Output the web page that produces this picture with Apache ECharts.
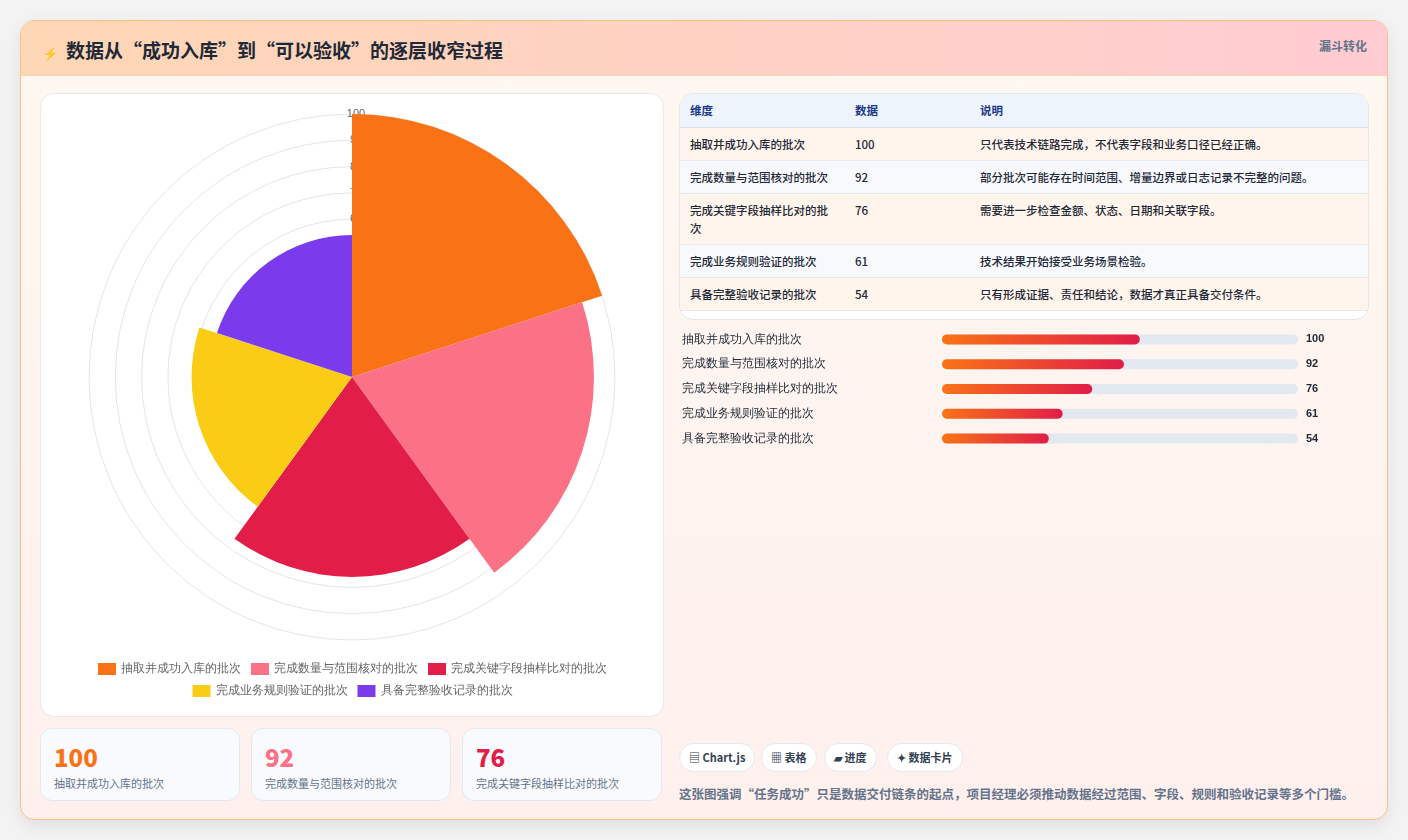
<!DOCTYPE html>
<html><head><meta charset="utf-8">
<script src="https://cdn.jsdelivr.net/npm/echarts@6/dist/echarts.min.js"></script>
<style>
*{box-sizing:border-box;margin:0;padding:0}
body{width:1408px;height:840px;background:#f3f3f3;font-family:"Noto Sans CJK SC","Noto Sans",sans-serif;position:relative;overflow:hidden}
.card{position:absolute;left:20px;top:20px;width:1368px;height:800px;border:1px solid #f5c08a;border-radius:14px;background:linear-gradient(180deg,#fff8f0,#fff0ee);box-shadow:0 6px 18px rgba(0,0,0,.08);overflow:hidden}
.head{position:absolute;left:0;top:0;width:100%;height:55px;background:linear-gradient(90deg,#fed7b5,#ffccd2);border-bottom:1px solid #f6d2b8}
.head h1{position:absolute;left:22px;top:15px;font-size:19px;font-weight:700;color:#1f2937}
.head h1 span{font-size:12px;color:#6366f1;margin-right:8px}
.tag{position:absolute;right:20px;top:16px;font-size:12px;font-weight:700;color:#64748b}
.box{position:absolute;background:#fff;border:1px solid #e5e7eb;border-radius:14px}
#polar{position:absolute;left:0;top:0;width:623px;height:623px}
table{border-collapse:collapse;width:100%;font-size:11.5px;color:#1f2937}
th{background:#eef4fc;color:#1e3a8a;text-align:left;font-weight:700;height:33px;padding:0 10px;border-bottom:1px solid #dbe3ee}
td{padding:7px 10px;border-bottom:1px solid #e5eaf0;font-weight:500;vertical-align:top;line-height:18px}
tr:nth-child(even) td{background:#fff5ec}tr:nth-child(odd) td{background:#f7f9fc}
.kpi{position:absolute;top:707px;width:200px;height:73px;background:#f8fafd;border:1px solid #e2e8f0;border-radius:12px}
.kpi b{position:absolute;left:13px;top:10px;font-size:24px;font-weight:800}
.kpi i{position:absolute;left:13px;top:46px;font-style:normal;font-size:11px;color:#64748b}
.chip{position:absolute;top:722px;height:29px;border:1px solid #e2e8f0;border-radius:15px;background:#fff;font-size:11px;font-weight:700;color:#334155;line-height:27px;padding:0 9px}
.foot{position:absolute;left:658px;top:763px;font-size:12.5px;font-weight:600;color:#64748b}
</style></head><body>
<div class="card">
 <div class="head"><h1><span>⚡</span>数据从“成功入库”到“可以验收”的逐层收窄过程</h1><div class="tag">漏斗转化</div></div>
 <div class="box" style="left:19px;top:72px;width:624px;height:624px;overflow:hidden"><div id="polar"></div></div>
 <div id="kpis"></div>
 <div class="box" style="left:658px;top:72px;width:690px;height:227px;overflow:hidden"><table id="tbl"></table></div>
 <div id="prog" style="position:absolute;left:658px;top:306px;width:690px;height:124px"></div>
 <div class="chip" style="left:658px">▤ Chart.js</div>
 <div class="chip" style="left:740px">▦ 表格</div>
 <div class="chip" style="left:803px">▰ 进度</div>
 <div class="chip" style="left:866px">✦ 数据卡片</div>
 <div class="foot">这张图强调“任务成功”只是数据交付链条的起点，项目经理必须推动数据经过范围、字段、规则和验收记录等多个门槛。</div>
</div>
<script>
const categories=["抽取并成功入库的批次","完成数量与范围核对的批次","完成关键字段抽样比对的批次","完成业务规则验证的批次","具备完整验收记录的批次"];
const values=[100,92,76,61,54];
const notes=["只代表技术链路完成，不代表字段和业务口径已经正确。","部分批次可能存在时间范围、增量边界或日志记录不完整的问题。","需要进一步检查金额、状态、日期和关联字段。","技术结果开始接受业务场景检验。","只有形成证据、责任和结论，数据才真正具备交付条件。"];
const colors=["#f97316","#fb7185","#e11d48","#facc15","#7c3aed"];
const kpiColors=["#f97316","#fb7185","#e11d48"];

let h='<tr><th style="width:165px">维度</th><th style="width:125px">数据</th><th>说明</th></tr>';
categories.forEach((c,i)=>{h+=`<tr><td>${c}</td><td>${values[i]}</td><td>${notes[i]}</td></tr>`});
document.getElementById('tbl').innerHTML=h;
let k='';[0,1,2].forEach(i=>{k+=`<div class="kpi" style="left:${19+i*211}px"><b style="color:${kpiColors[i]}">${values[i]}</b><i>${categories[i]}</i></div>`});
document.getElementById('kpis').innerHTML=k;

const lg={left:'center',itemWidth:18,itemHeight:12,itemGap:10,icon:'rect',textStyle:{color:'#666',fontSize:11.5}};
const pc=echarts.init(document.getElementById('polar'));
pc.setOption({
 animation:false,
 polar:{center:[311,283],radius:263},
 angleAxis:{type:'category',data:categories,startAngle:90,clockwise:true,axisLine:{show:false},axisTick:{show:false},axisLabel:{show:false},splitLine:{show:false}},
 radiusAxis:{type:'value',min:0,max:100,interval:10,z:0,axisLine:{show:false},axisTick:{show:false},
  axisLabel:{color:'#666',fontSize:11,margin:-4,align:'center'},splitLine:{lineStyle:{color:'#e5e5e5'}}},
 legend:[Object.assign({top:564,data:categories.slice(0,3)},lg),Object.assign({top:586,data:categories.slice(3)},lg)],
 series:categories.map((c,i)=>({type:'bar',coordinateSystem:'polar',name:c,barGap:'-100%',barCategoryGap:'0%',z:5,
   itemStyle:{color:colors[i]},data:values.map((v,j)=>j===i?v:'-')}))
});

const pr=echarts.init(document.getElementById('prog'));
pr.setOption({
 animation:false,
 grid:{left:260,right:71,top:0,bottom:0},
 xAxis:{type:'value',min:0,max:180,show:false},
 yAxis:[{type:'category',data:categories,inverse:true,axisLine:{show:false},axisTick:{show:false},
   axisLabel:{align:'left',margin:260,color:'#1f2937',fontSize:11.5,fontWeight:500}},
  {type:'category',data:values,inverse:true,position:'right',axisLine:{show:false},axisTick:{show:false},
   axisLabel:{align:'left',margin:8,color:'#1f2937',fontSize:11,fontWeight:700}}],
 series:[{type:'bar',data:values,barWidth:10,showBackground:true,
  backgroundStyle:{color:'#e2e8f0',borderRadius:5},
  itemStyle:{borderRadius:5,color:new echarts.graphic.LinearGradient(0,0,1,0,[{offset:0,color:'#f97316'},{offset:1,color:'#e11d48'}])}}]
});
</script></body></html>
